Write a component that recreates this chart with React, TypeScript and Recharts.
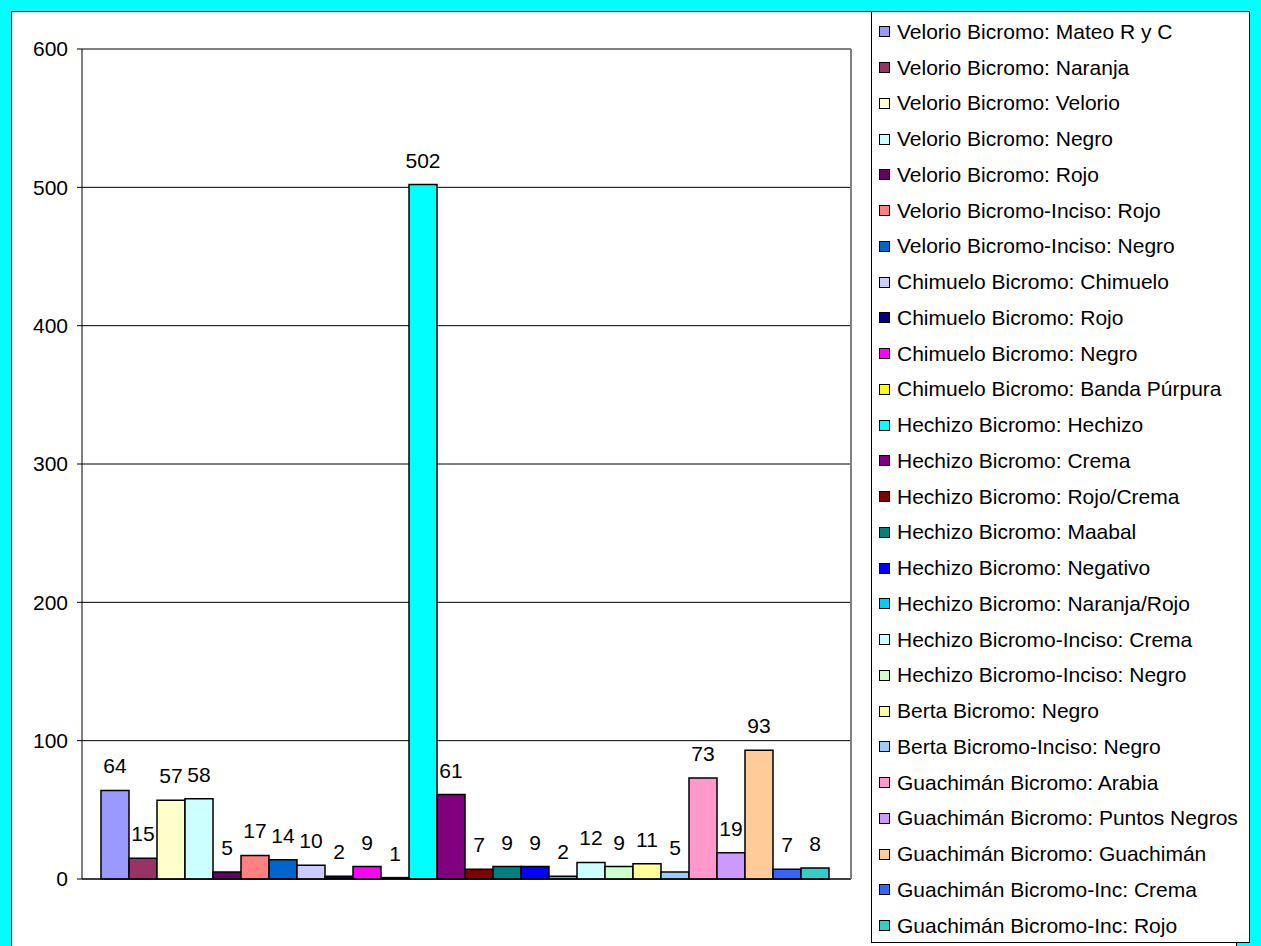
import { BarChart, Bar, XAxis, YAxis, CartesianGrid, Legend, LabelList } from "recharts";

const seriesNames = [
  "Velorio Bicromo: Mateo R y C",
  "Velorio Bicromo: Naranja",
  "Velorio Bicromo: Velorio",
  "Velorio Bicromo: Negro",
  "Velorio Bicromo: Rojo",
  "Velorio Bicromo-Inciso: Rojo",
  "Velorio Bicromo-Inciso: Negro",
  "Chimuelo Bicromo: Chimuelo",
  "Chimuelo Bicromo: Rojo",
  "Chimuelo Bicromo: Negro",
  "Chimuelo Bicromo: Banda Púrpura",
  "Hechizo Bicromo: Hechizo",
  "Hechizo Bicromo: Crema",
  "Hechizo Bicromo: Rojo/Crema",
  "Hechizo Bicromo: Maabal",
  "Hechizo Bicromo: Negativo",
  "Hechizo Bicromo: Naranja/Rojo",
  "Hechizo Bicromo-Inciso: Crema",
  "Hechizo Bicromo-Inciso: Negro",
  "Berta Bicromo: Negro",
  "Berta Bicromo-Inciso: Negro",
  "Guachimán Bicromo: Arabia",
  "Guachimán Bicromo: Puntos Negros",
  "Guachimán Bicromo: Guachimán",
  "Guachimán Bicromo-Inc: Crema",
  "Guachimán Bicromo-Inc: Rojo",
];

const seriesValues = [64, 15, 57, 58, 5, 17, 14, 10, 2, 9, 1, 502, 61, 7, 9, 9, 2, 12, 9, 11, 5, 73, 19, 93, 7, 8];

const seriesColors = [
  "#9999FF", "#993366", "#FFFFCC", "#CCFFFF", "#660066", "#FF8080", "#0066CC",
  "#CCCCFF", "#000080", "#FF00FF", "#FFFF00", "#00FFFF", "#800080", "#800000",
  "#008080", "#0000FF", "#00CCFF", "#CCFFFF", "#CCFFCC", "#FFFF99", "#99CCFF",
  "#FF99CC", "#CC99FF", "#FFCC99", "#3366FF", "#33CCCC",
];

const yTicks = [0, 100, 200, 300, 400, 500, 600];

const row: Record<string, string | number> = { name: "" };
seriesValues.forEach((v, i) => {
  row["s" + i] = v;
});
const data = [row];

const FONT = "'Liberation Sans', Arial, sans-serif";

// legend kept in series order (Recharts sorts its payload by name)
function LegendBox() {
  return (
    <div style={{ paddingTop: 2 }}>
      {seriesNames.map((name, i) => (
        <div
          key={name}
          style={{ height: 35.75, display: "flex", alignItems: "center", paddingLeft: 7 }}
        >
          <span
            style={{
              display: "inline-block",
              width: 9,
              height: 9,
              background: seriesColors[i],
              border: "1.5px solid #000",
              marginRight: 7,
            }}
          />
          <span style={{ fontSize: 21, color: "#000", whiteSpace: "nowrap" }}>{name}</span>
        </div>
      ))}
    </div>
  );
}

export default function App() {
  return (
    <div style={{ position: "fixed", left: 0, top: 0, width: 1261, height: 946, background: "#00FFFF", overflow: "hidden" }}>
      <div
        style={{
          position: "absolute",
          left: 11,
          top: 11,
          width: 1226,
          height: 950,
          background: "#fff",
          borderLeft: "1px solid #000",
          borderTop: "1px solid #000",
          borderRight: "1px solid #000",
          boxSizing: "border-box",
        }}
      />
      <div style={{ position: "absolute", left: 0, top: 0 }}>
        <BarChart
          width={1261}
          height={946}
          data={data}
          margin={{ top: 48, right: 409, bottom: 37, left: 0 }}
          barCategoryGap={19}
          barGap={0}
          style={{ fontFamily: FONT }}
        >
          <CartesianGrid vertical={false} stroke="#000" />
          <XAxis dataKey="name" tick={false} tickLine={false} axisLine={{ stroke: "#000" }} />
          <XAxis
            xAxisId="top"
            orientation="top"
            dataKey="name"
            height={1}
            tick={false}
            tickLine={false}
            axisLine={{ stroke: "#808080", strokeWidth: 1.5 }}
          />
          <YAxis
            domain={[0, 600]}
            ticks={yTicks}
            width={82}
            tickSize={5}
            tickMargin={9}
            tickLine={{ stroke: "#000" }}
            axisLine={{ stroke: "#000" }}
            tick={{ fill: "#000", fontSize: 21, fontFamily: FONT }}
          />
          <YAxis
            yAxisId="right"
            orientation="right"
            domain={[0, 600]}
            width={1}
            tick={false}
            tickLine={false}
            axisLine={{ stroke: "#808080", strokeWidth: 2 }}
          />
          {seriesNames.map((name, i) => (
            <Bar
              key={name}
              dataKey={"s" + i}
              name={name}
              fill={seriesColors[i]}
              stroke="#000"
              strokeWidth={1.5}
              isAnimationActive={false}
            >
              <LabelList
                dataKey={"s" + i}
                position="top"
                offset={17}
                fill="#000"
                fontSize={21}
                fontFamily={FONT}
              />
            </Bar>
          ))}
          <Legend
            layout="vertical"
            align="center"
            verticalAlign="middle"
            content={<LegendBox />}
            wrapperStyle={{
              left: 871,
              top: 11,
              width: 379,
              height: 932,
              background: "#fff",
              border: "1px solid #000",
              boxSizing: "border-box",
              fontFamily: FONT,
            }}
          />
        </BarChart>
      </div>
    </div>
  );
}
